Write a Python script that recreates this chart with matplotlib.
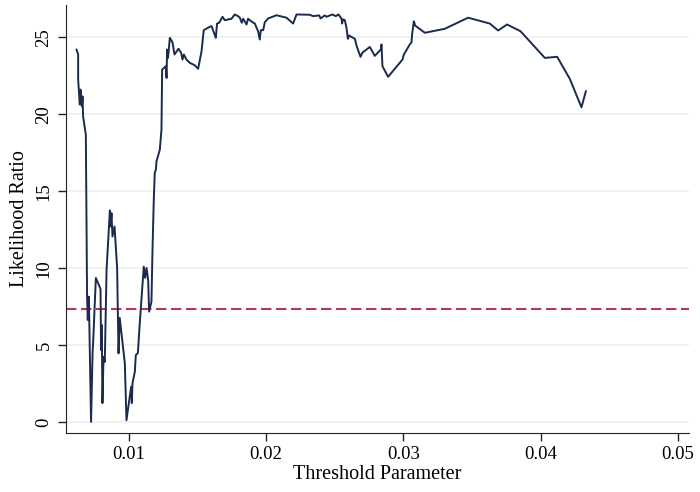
import numpy as np
import matplotlib.pyplot as plt

# threshold parameter vs likelihood ratio
seuil = [0.00619, 0.00631, 0.00631, 0.00643, 0.00648, 0.00658, 0.00663, 0.00667, 0.00687, 0.00696,
         0.00701, 0.00709, 0.00725, 0.00736, 0.00740, 0.00760, 0.00794, 0.00798, 0.00803, 0.00808,
         0.00816, 0.00825, 0.00838, 0.00862, 0.00867, 0.00874, 0.00881, 0.00896, 0.00915, 0.00925,
         0.00934, 0.00971, 0.00983, 0.01017, 0.01022, 0.01027, 0.01044, 0.01051, 0.01066, 0.01080,
         0.01109, 0.01119, 0.01129, 0.01141, 0.01148, 0.01165, 0.01173, 0.01182, 0.01189, 0.01197,
         0.01202, 0.01226, 0.01238, 0.01243, 0.01270, 0.01275, 0.01279, 0.01286, 0.01299, 0.01318,
         0.01333, 0.01362, 0.01381, 0.01391, 0.01401, 0.01420, 0.01444, 0.01481, 0.01505, 0.01530,
         0.01546, 0.01590, 0.01603, 0.01634, 0.01643, 0.01658, 0.01683, 0.01699, 0.01748, 0.01772,
         0.01796, 0.01809, 0.01823, 0.01833, 0.01858, 0.01869, 0.01901, 0.01918, 0.01942, 0.01954,
         0.01962, 0.01979, 0.01991, 0.02015, 0.02076, 0.02149, 0.02197, 0.02222, 0.02319, 0.02343,
         0.02387, 0.02397, 0.02428, 0.02440, 0.02484, 0.02508, 0.02528, 0.02550, 0.02554, 0.02561,
         0.02574, 0.02586, 0.02596, 0.02605, 0.02647, 0.02659, 0.02688, 0.02703, 0.02756, 0.02792,
         0.02836, 0.02841, 0.02848, 0.02889, 0.02994, 0.03004, 0.03047, 0.03060, 0.03064, 0.03077,
         0.03086, 0.03157, 0.03302, 0.03472, 0.03630, 0.03691, 0.03756, 0.03854, 0.04031, 0.04121,
         0.04213, 0.04298, 0.04330]
lr = [24.20, 23.88, 22.25, 20.63, 21.60, 20.51, 21.16, 19.86, 18.67, 8.15,
      6.64, 8.15, 0.02, 4.49, 5.14, 9.37, 8.65, 4.68, 6.31, 1.24,
      4.25, 3.92, 9.89, 13.75, 12.71, 13.58, 12.06, 12.71, 10.00, 4.47,
      6.77, 3.84, 0.13, 2.30, 1.24, 2.54, 3.27, 4.36, 4.49, 6.44,
      10.10, 9.37, 10.02, 9.24, 7.18, 7.83, 11.30, 14.44, 16.18, 16.40,
      16.94, 17.70, 19.00, 22.90, 23.12, 22.36, 24.20, 23.66, 24.96, 24.68,
      23.88, 24.25, 23.99, 23.55, 23.88, 23.55, 23.34, 23.18, 22.95, 24.09,
      25.46, 25.68, 25.72, 24.96, 25.89, 25.94, 26.33, 26.11, 26.20, 26.48,
      26.37, 26.27, 25.94, 26.20, 25.83, 26.20, 25.98, 25.89, 25.39, 24.85,
      25.46, 25.46, 25.98, 26.22, 26.43, 26.27, 25.89, 26.48, 26.46, 26.37,
      26.42, 26.22, 26.42, 26.33, 26.48, 26.37, 26.48, 26.20, 25.89, 26.16,
      26.11, 25.61, 24.90, 25.11, 24.90, 24.46, 23.73, 24.01, 24.37, 23.79,
      24.20, 24.53, 23.12, 22.43, 23.55, 23.88, 24.53, 24.68, 25.18, 26.04,
      25.76, 25.29, 25.55, 26.27, 25.89, 25.44, 25.83, 25.39, 23.66, 23.73,
      22.30, 20.45, 21.49]
valeur_critique = 7.35

xticks = [0.01, 0.02, 0.03, 0.04, 0.05]
xlabels = ["0.01", "0.02", "0.03", "0.04", "0.05"]
yticks = [0, 5, 10, 15, 20, 25]

plt.rcParams['font.family'] = ['Liberation Serif', 'DejaVu Serif']

fig = plt.figure(figsize=(7, 4.92), dpi=100)
ax = fig.add_axes([0.094, 0.12, 0.89, 0.87])

for y in yticks:
    ax.axhline(y, color='#f0f0f0', lw=1.3, zorder=0)

ax.plot(seuil, lr, color='#1a2b4d', lw=1.4, zorder=3)
ax.axhline(valeur_critique, color='#b23a55', lw=1.5, dashes=(5, 2.2), zorder=2)

ax.set_xlim(0.00541, 0.0508)
ax.set_ylim(-0.7, 27.1)
ax.set_xticks(xticks)
ax.set_xticklabels(xlabels)
ax.set_yticks(yticks)
ax.set_yticklabels([str(v) for v in yticks], rotation=90, va='center')
ax.tick_params(labelsize=13.5, length=6, width=1, color='#222222')
ax.spines['top'].set_visible(False)
ax.spines['right'].set_visible(False)
ax.spines['left'].set_color('#222222')
ax.spines['bottom'].set_color('#222222')

ax.set_xlabel("Threshold Parameter", fontsize=14.5, labelpad=1)
ax.set_ylabel("Likelihood Ratio", fontsize=14.5, labelpad=5)

fig.savefig("out.png", dpi=100)
